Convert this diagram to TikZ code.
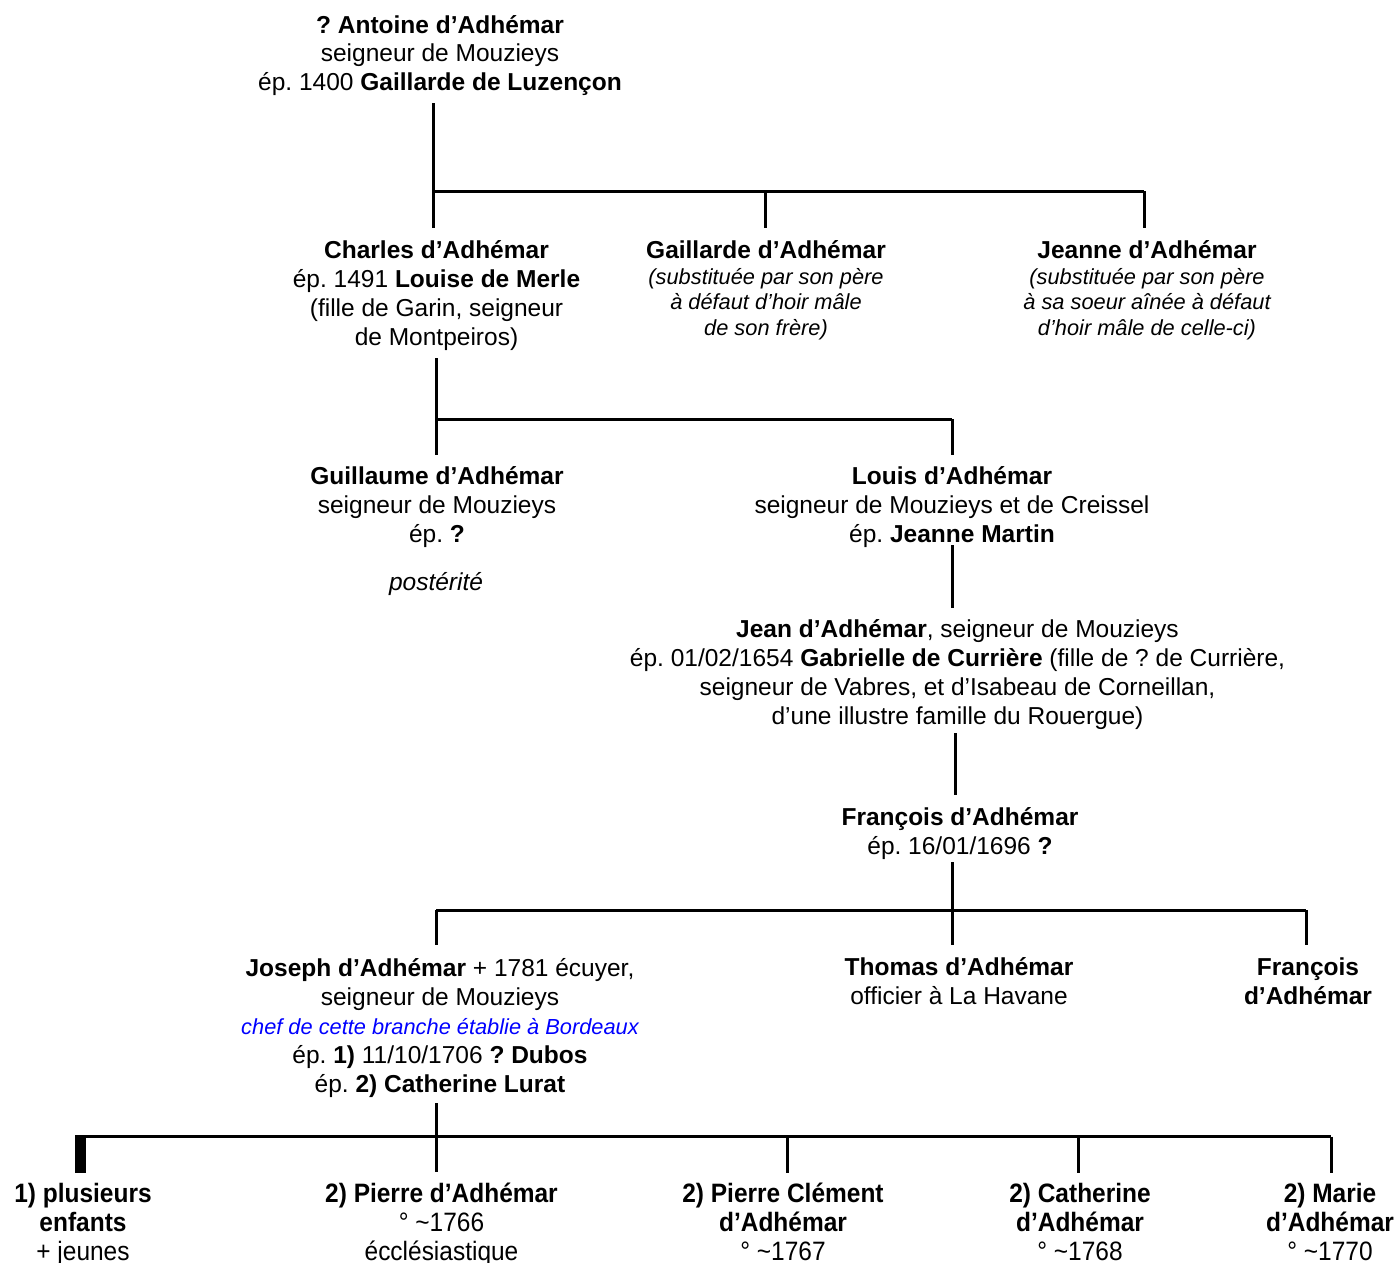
\documentclass[tikz,border=0pt]{standalone}
\usepackage{fontspec}
\setmainfont{Liberation Sans}
\newfontfamily\tallfont[FakeStretch=0.92]{Liberation Sans}
\definecolor{noteblue}{RGB}{0,0,255}
\frenchspacing
\begin{document}
\begin{tikzpicture}[x=1pt,y=-1pt,
  person/.style={inner sep=0pt, align=center, anchor=base, font=\frenchspacing\fontsize{24.5}{29}\selectfont},
  remark/.style={inner sep=0pt, align=center, anchor=base, font=\frenchspacing\fontsize{21.8}{25.5}\selectfont\itshape},
  kid/.style={inner sep=0pt, align=center, anchor=base, font=\frenchspacing\tallfont\fontsize{26.6}{29}\selectfont},
  link/.style={line width=3pt}]
\useasboundingbox (0,0) rectangle (1398,1263);
% (node positions give the baseline of the LAST line of each text)

% generation 1
\node[person] (antoine) at (440,91) {\textbf{? Antoine d’Adhémar}\\seigneur de Mouzieys\\ép. 1400 \textbf{Gaillarde de Luzençon}};

% generation 2
\node[person] (charles) at (436.5,345) {\textbf{Charles d’Adhémar}\\ép. 1491 \textbf{Louise de Merle}\\(fille de Garin, seigneur\\de Montpeiros)};
\node[person] (gaillarde) at (766,258) {\textbf{Gaillarde d’Adhémar}};
\node[remark] (gaillardenote) at (766,335) {(substituée par son père\\à défaut d’hoir mâle\\de son frère)};
\node[person] (jeanne) at (1147,258) {\textbf{Jeanne d’Adhémar}};
\node[remark] (jeannenote) at (1147,335) {(substituée par son père\\à sa soeur aînée à défaut\\d’hoir mâle de celle-ci)};

% generation 3
\node[person] (guillaume) at (437,542) {\textbf{Guillaume d’Adhémar}\\seigneur de Mouzieys\\ép. \textbf{?}};
\node[person, font=\frenchspacing\fontsize{24.5}{29}\selectfont\itshape] (posterite) at (436,590) {postérité};
\node[person] (louis) at (952,542) {\textbf{Louis d’Adhémar}\\seigneur de Mouzieys et de Creissel\\ép. \textbf{Jeanne Martin}};

% generation 4
\node[person] (jean) at (957.5,724) {\textbf{Jean d’Adhémar}, seigneur de Mouzieys\\ép. 01/02/1654 \textbf{Gabrielle de Currière} (fille de ? de Currière,\\seigneur de Vabres, et d’Isabeau de Corneillan,\\d’une illustre famille du Rouergue)};

% generation 5
\node[person] (francois) at (960,854) {\textbf{François d’Adhémar}\\ép. 16/01/1696 \textbf{?}};

% generation 6
\node[person] (joseph) at (440,1092) {\textbf{Joseph d’Adhémar} + 1781 écuyer,\\seigneur de Mouzieys\\{\fontsize{21.8}{26}\selectfont\itshape\color{noteblue}chef de cette branche établie à Bordeaux}\\ép. \textbf{1)} 11/10/1706 \textbf{? Dubos}\\ép. \textbf{2) Catherine Lurat}};
\node[person] (thomas) at (959,1004) {\textbf{Thomas d’Adhémar}\\officier à La Havane};
\node[person] (francoisb) at (1308,1004) {\textbf{François}\\\textbf{d’Adhémar}};

% generation 7
\node[kid] (plusieurs) at (83,1260.5) {\textbf{1) plusieurs}\\\textbf{enfants}\\+ jeunes};
\node[kid] (pierre) at (441.5,1260.5) {\textbf{2) Pierre d’Adhémar}\\° \textasciitilde1766\\écclésiastique};
\node[kid] (pierreclement) at (783,1260.5) {\textbf{2) Pierre Clément}\\\textbf{d’Adhémar}\\° \textasciitilde1767};
\node[kid] (catherine) at (1080,1260.5) {\textbf{2) Catherine}\\\textbf{d’Adhémar}\\° \textasciitilde1768};
\node[kid] (marie) at (1330,1260.5) {\textbf{2) Marie}\\\textbf{d’Adhémar}\\° \textasciitilde1770};

% connector points
\coordinate (a0) at (433,103);
\coordinate (a1) at (433,228);
\coordinate (ab) at (433,191);
\coordinate (ag) at (765,191);
\coordinate (agb) at (765,228);
\coordinate (aj) at (1144,191);
\coordinate (ajb) at (1144,228);

\coordinate (c0) at (436,358);
\coordinate (c1) at (436,455);
\coordinate (cb) at (436,419);
\coordinate (cl) at (952,419);
\coordinate (clb) at (952,455);

\coordinate (l0) at (952,545);
\coordinate (l1) at (952,608);
\coordinate (j0) at (955,733);
\coordinate (j1) at (955,795);

\coordinate (f0) at (952,862);
\coordinate (f1) at (952,945);
\coordinate (fl) at (436,910);
\coordinate (flb) at (436,945);
\coordinate (fr) at (1306,910);
\coordinate (frb) at (1306,945);

\coordinate (o0) at (436,1103);
\coordinate (o1) at (436,1172);
\coordinate (ol) at (75,1136.5);
\coordinate (or) at (1331,1136.5);
\coordinate (p2) at (787,1136.5);
\coordinate (p2b) at (787,1173);
\coordinate (p3) at (1078,1136.5);
\coordinate (p3b) at (1078,1173);
\coordinate (p4b) at (1331,1173);
\coordinate (barA) at (75,1135);
\coordinate (barB) at (86,1173);

% connectors
\draw[link] (a0) -- (a1);
\draw[link] (ab) -- (aj);
\draw[link] (ag) -- (agb);
\draw[link] (aj) -- (ajb);

\draw[link] (c0) -- (c1);
\draw[link] (cb) -- (cl);
\draw[link] (cl) -- (clb);

\draw[link] (l0) -- (l1);
\draw[link] (j0) -- (j1);

\draw[link] (f0) -- (f1);
\draw[link] (fl) -- (fr);
\draw[link] (fl) -- (flb);
\draw[link] (fr) -- (frb);

\draw[link] (o0) -- (o1);
\draw[link] (ol) -- (or);
\draw[link] (p2) -- (p2b);
\draw[link] (p3) -- (p3b);
\draw[link] (or) -- (p4b);
\fill (barA) rectangle (barB);
\end{tikzpicture}
\end{document}
